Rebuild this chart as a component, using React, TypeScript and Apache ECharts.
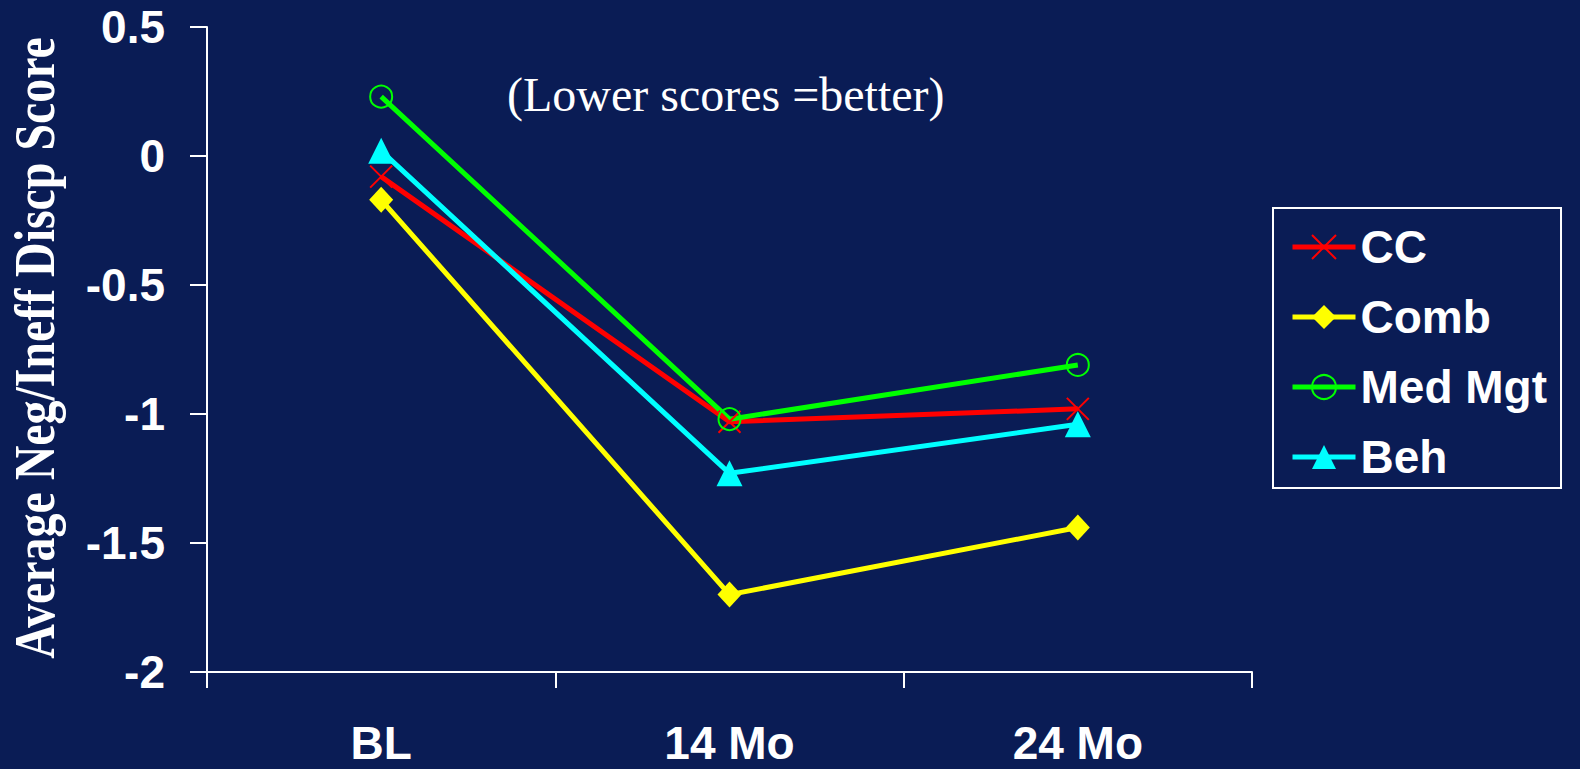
import React, { useEffect, useRef } from "react";
import * as echarts from "echarts";

const categories = ["BL", "14 Mo", "24 Mo"];
const seriesNames = ["CC", "Comb", "Med Mgt", "Beh"];
const ccValues = [-0.08, -1.03, -0.98];
const combValues = [-0.17, -1.7, -1.44];
const medMgtValues = [0.23, -1.02, -0.81];
const behValues = [0.02, -1.23, -1.04];
const yTicks = { min: -2, max: 0.5, interval: 0.5 };
const annotation = "(Lower scores =better)";
const yTitle = "Average Neg/Ineff Discp Score";

const BG = "#0a1c55";

export default function App() {
  const ref = useRef<HTMLDivElement>(null);
  useEffect(() => {
    if (!ref.current) return;
    const chart = echarts.init(ref.current, undefined, { renderer: "svg" });
    const boldFont = "Liberation Sans, Arial, sans-serif";
    const mk = (
      name: string,
      data: number[],
      color: string,
      symbol: string,
      symbolSize: number | number[],
      itemStyle: any
    ) => ({
      name,
      type: "line",
      data,
      symbol,
      symbolSize,
      lineStyle: { color, width: 5 },
      itemStyle,
      emphasis: { disabled: true },
    });
    chart.setOption({
      animation: false,
      backgroundColor: BG,
      grid: { left: 207, right: 328, top: 27, bottom: 97 },
      xAxis: {
        type: "category",
        data: categories,
        boundaryGap: true,
        axisLine: { onZero: false, lineStyle: { color: "#ffffff", width: 2 } },
        axisTick: { show: true, length: 16, lineStyle: { color: "#ffffff", width: 2 } },
        axisLabel: {
          color: "#ffffff",
          fontSize: 46,
          fontWeight: "bold",
          fontFamily: boldFont,
          margin: 48,
        },
        splitLine: { show: false },
      },
      yAxis: {
        type: "value",
        min: yTicks.min,
        max: yTicks.max,
        interval: yTicks.interval,
        axisLine: { show: true, lineStyle: { color: "#ffffff", width: 2 } },
        axisTick: { show: true, length: 17, lineStyle: { color: "#ffffff", width: 2 } },
        axisLabel: {
          color: "#ffffff",
          fontSize: 46,
          fontWeight: "bold",
          fontFamily: boldFont,
          margin: 42,
        },
        splitLine: { show: false },
      },
      legend: {
        orient: "vertical",
        left: 1273,
        top: 208,
        padding: [14, 14, 6, 17],
        borderColor: "#ffffff",
        borderWidth: 2,
        itemWidth: 63,
        itemHeight: 30,
        itemGap: 20,
        lineStyle: { width: 5 },
        textStyle: {
          color: "#ffffff",
          fontSize: 46,
          fontWeight: "bold",
          fontFamily: boldFont,
          lineHeight: 50,
        },
        data: seriesNames,
      },
      graphic: [
        {
          type: "text",
          left: 507,
          top: 70,
          style: {
            text: annotation,
            fill: "#ffffff",
            font: "48px 'Liberation Serif', 'Times New Roman', serif",
          },
        },
        {
          type: "text",
          x: 35,
          y: 348,
          rotation: Math.PI / 2,
          scaleX: 0.84,
          style: {
            text: yTitle,
            fill: "#ffffff",
            font: "bold 57px 'Liberation Serif', 'Times New Roman', serif",
            align: "center",
            verticalAlign: "middle",
          },
        },
      ],
      series: [
        mk("CC", ccValues, "#ff0000", "path://M0,0L10,10M10,0L0,10", 22, {
          color: "#ff0000",
          borderColor: "#ff0000",
          borderWidth: 2,
        }),
        mk("Comb", combValues, "#ffff00", "diamond", [24, 26], {
          color: "#ffff00",
        }),
        mk("Med Mgt", medMgtValues, "#00ff00", "circle", 22, {
          color: "rgba(0,0,0,0)",
          borderColor: "#00ff00",
          borderWidth: 2,
        }),
        mk("Beh", behValues, "#00ffff", "triangle", 26, {
          color: "#00ffff",
        }),
      ],
    });
    return () => chart.dispose();
  }, []);
  return (
    <div
      ref={ref}
      style={{ position: "fixed", left: 0, top: 0, width: 1580, height: 769, background: BG }}
    />
  );
}
